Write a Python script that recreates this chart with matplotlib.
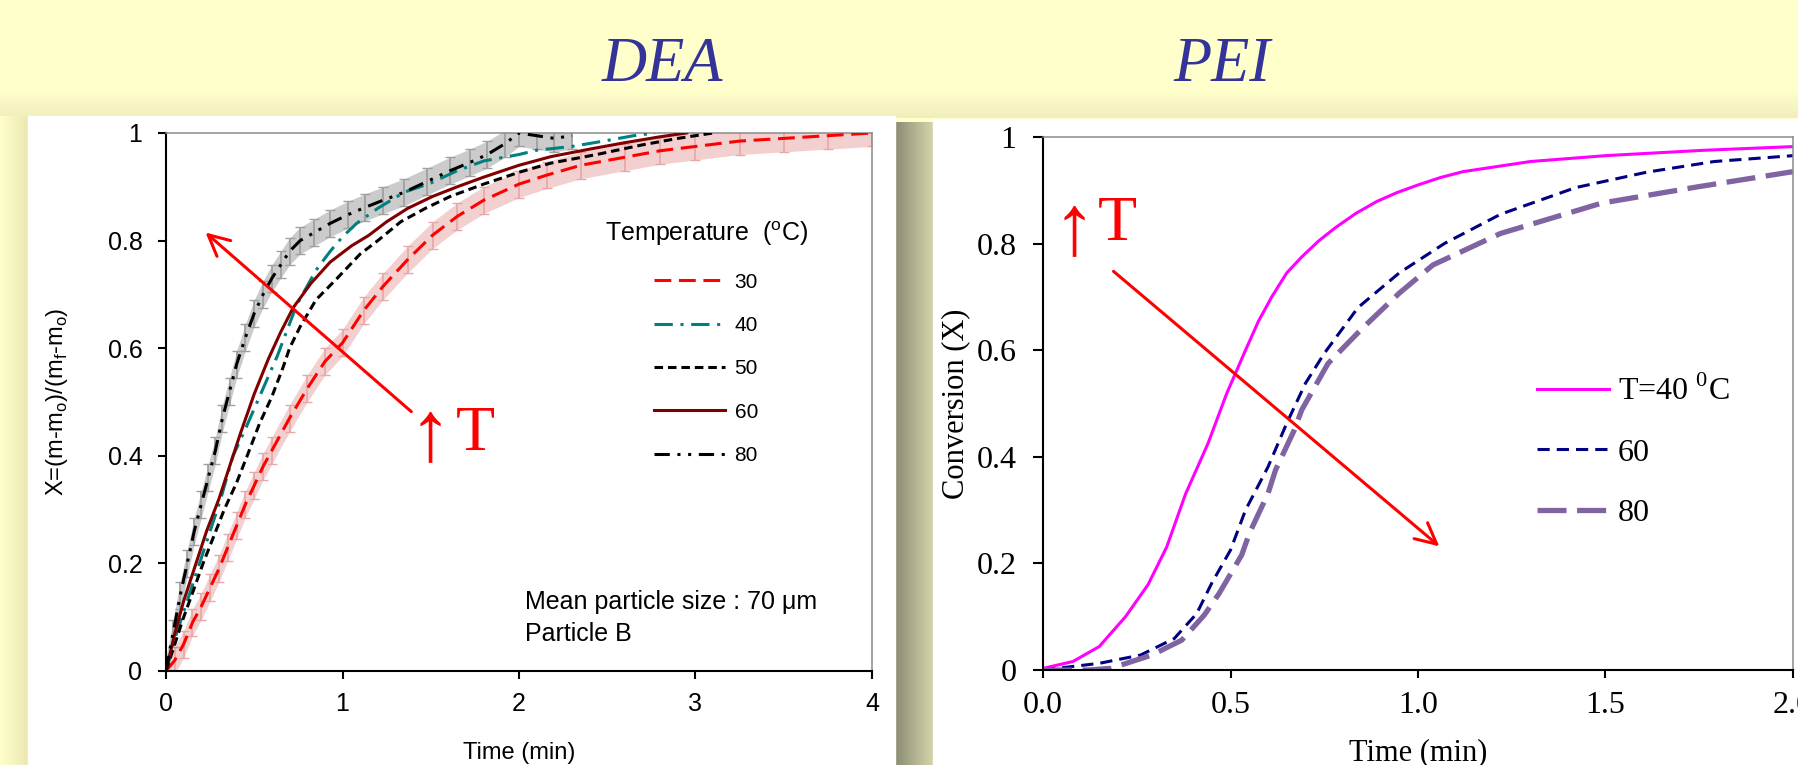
import numpy as np
import matplotlib.pyplot as plt
from matplotlib.patches import Rectangle
from matplotlib.colors import LinearSegmentedColormap

# ---- DEA (left panel): time (min) vs X ----
t30 = [0.00, 0.05, 0.10, 0.15, 0.20, 0.25, 0.30, 0.35, 0.40, 0.45, 0.50, 0.55, 0.60, 0.70, 0.80,
       0.90, 1.00, 1.12, 1.23, 1.37, 1.51, 1.65, 1.80, 2.00, 2.16, 2.35, 2.60, 2.80, 3.00, 3.25,
       3.50, 3.75, 4.00]
x30 = [0.00, 0.02, 0.05, 0.09, 0.12, 0.155, 0.19, 0.23, 0.27, 0.31, 0.345, 0.38, 0.41, 0.47, 0.525,
       0.575, 0.61, 0.67, 0.715, 0.765, 0.81, 0.845, 0.875, 0.905, 0.922, 0.94, 0.955, 0.967, 0.975, 0.985,
       0.99, 0.995, 1.00]

t40 = [0.00, 0.05, 0.10, 0.19, 0.25, 0.31, 0.38, 0.45, 0.53, 0.63, 0.74, 0.85, 0.93, 1.00, 1.08,
       1.20, 1.35, 1.50, 1.65, 1.80, 2.00, 2.10, 2.30, 2.48, 2.65, 2.77]
x40 = [0.00, 0.06, 0.11, 0.20, 0.26, 0.32, 0.40, 0.45, 0.51, 0.585, 0.68, 0.745, 0.78, 0.807, 0.832,
       0.86, 0.89, 0.907, 0.93, 0.948, 0.96, 0.968, 0.975, 0.985, 0.995, 1.00]

t50 = [0.00, 0.05, 0.10, 0.15, 0.21, 0.27, 0.33, 0.40, 0.46, 0.53, 0.60, 0.665, 0.70, 0.76, 0.85,
       0.97, 1.10, 1.20, 1.33, 1.47, 1.61, 1.80, 2.00, 2.18, 2.44, 2.70, 2.90, 3.10]
x50 = [0.00, 0.05, 0.10, 0.145, 0.20, 0.25, 0.30, 0.35, 0.40, 0.46, 0.51, 0.566, 0.60, 0.64, 0.69,
       0.73, 0.775, 0.80, 0.835, 0.86, 0.882, 0.905, 0.927, 0.944, 0.96, 0.978, 0.99, 1.00]

t60 = [0.00, 0.05, 0.10, 0.17, 0.23, 0.30, 0.36, 0.42, 0.50, 0.58, 0.65, 0.72, 0.82, 0.93, 1.05,
       1.15, 1.25, 1.37, 1.51, 1.65, 1.80, 2.00, 2.18, 2.40, 2.60, 2.80, 2.95]
x60 = [0.00, 0.07, 0.13, 0.20, 0.26, 0.32, 0.38, 0.44, 0.515, 0.58, 0.63, 0.675, 0.72, 0.76, 0.79,
       0.81, 0.835, 0.86, 0.882, 0.90, 0.918, 0.94, 0.956, 0.97, 0.982, 0.993, 1.00]

t80 = [0.00, 0.04, 0.08, 0.12, 0.16, 0.20, 0.24, 0.28, 0.32, 0.36, 0.40, 0.45, 0.50, 0.55, 0.60,
       0.65, 0.70, 0.76, 0.84, 0.93, 1.03, 1.13, 1.23, 1.35, 1.48, 1.61, 1.72, 1.82, 1.92, 2.00,
       2.10, 2.20, 2.30]
x80 = [0.00, 0.07, 0.14, 0.20, 0.26, 0.31, 0.36, 0.41, 0.47, 0.52, 0.57, 0.62, 0.665, 0.70, 0.73,
       0.755, 0.78, 0.80, 0.815, 0.832, 0.848, 0.862, 0.875, 0.89, 0.91, 0.93, 0.945, 0.96, 0.98, 1.00,
       0.995, 0.99, 0.995]

err30 = 0.025
err80 = 0.025

# ---- PEI (right panel): time (min) vs conversion ----
tp40 = [0.00, 0.08, 0.15, 0.22, 0.28, 0.33, 0.38, 0.44, 0.49, 0.54, 0.575, 0.61, 0.65, 0.69, 0.735,
        0.78, 0.835, 0.89, 0.945, 1.00, 1.06, 1.12, 1.30, 1.50, 1.76, 2.00]
xp40 = [0.003, 0.016, 0.044, 0.10, 0.16, 0.231, 0.33, 0.425, 0.519, 0.60, 0.655, 0.70, 0.745, 0.775, 0.805,
        0.83, 0.857, 0.879, 0.896, 0.91, 0.924, 0.935, 0.954, 0.965, 0.975, 0.982]

tp60 = [0.00, 0.15, 0.26, 0.35, 0.41, 0.45, 0.50, 0.54, 0.60, 0.65, 0.70, 0.75, 0.84, 0.95, 1.07,
        1.22, 1.42, 1.61, 1.79, 2.00]
xp60 = [0.00, 0.0125, 0.028, 0.059, 0.106, 0.163, 0.225, 0.30, 0.381, 0.463, 0.538, 0.594, 0.68, 0.745, 0.80,
        0.855, 0.905, 0.934, 0.954, 0.965]

tp80 = [0.00, 0.12, 0.18, 0.29, 0.37, 0.43, 0.47, 0.53, 0.55, 0.60, 0.62, 0.67, 0.69, 0.76, 0.85,
        0.95, 1.04, 1.22, 1.49, 1.75, 2.00]
xp80 = [0.00, 0.00, 0.003, 0.028, 0.056, 0.103, 0.144, 0.216, 0.256, 0.331, 0.375, 0.45, 0.488, 0.575, 0.64,
        0.707, 0.76, 0.819, 0.876, 0.907, 0.935]

SANS = 'Liberation Sans'
SERIF = ['Liberation Serif', 'DejaVu Serif']
plt.rcParams['font.family'] = SANS

W, H = 1799, 765
fig = plt.figure(figsize=(W / 100, H / 100), dpi=100)
fig.patch.set_facecolor('#FFFFCC')

# background: slide with white boxes and soft shadows
bg = fig.add_axes([0, 0, 1, 1], zorder=-10)
bg.axis('off')


def gradient(extent, c1, c2, horizontal=True):
    cmap = LinearSegmentedColormap.from_list('g', [c1, c2])
    g = np.linspace(0, 1, 64)
    arr = g[None, :] if horizontal else g[:, None]
    bg.imshow(arr, cmap=cmap, extent=extent, aspect='auto', interpolation='bicubic')


gradient((0, W, 118, 90), '#FFFFCC', '#F1EEBC', horizontal=False)
gradient((0, 28, H, 116), '#FFFFCC', '#ECE8B3')
gradient((895, 933, H, 122), '#8C8C74', '#D4D4AB')
bg.add_patch(Rectangle((28, 116), 867, H - 116, color='white'))
bg.add_patch(Rectangle((933, 119), W - 933, H - 119, color='white'))
bg.set_xlim(0, W)
bg.set_ylim(H, 0)

fig.text(662 / W, 1 - 81 / H, 'DEA', ha='center', va='baseline', fontsize=45,
         family=SERIF, style='italic', color='#333399')
fig.text(1222 / W, 1 - 81 / H, 'PEI', ha='center', va='baseline', fontsize=45,
         family=SERIF, style='italic', color='#333399')


def style_axes(ax, labelsize, family, ylen, xpad, ypad):
    for s in ['left', 'bottom']:
        ax.spines[s].set_color('black')
        ax.spines[s].set_linewidth(1.5)
    for s in ['top', 'right']:
        ax.spines[s].set_color('#8A8A8A')
        ax.spines[s].set_linewidth(1.1)
    ax.tick_params(direction='out', width=1.5, labelsize=labelsize)
    ax.tick_params(axis='y', length=ylen, pad=ypad)
    ax.tick_params(axis='x', length=6, pad=xpad)
    for lab in ax.get_xticklabels() + ax.get_yticklabels():
        lab.set_family(family)


# ---- left panel ----
ax1 = fig.add_axes([166 / W, (H - 671) / H, 706 / W, 538 / H])
lw = 2.2

a30 = np.array(x30)
a80 = np.array(x80)
ax1.fill_between(t30, a30 - err30, a30 + err30, color='#F3D0D0', lw=0, zorder=1)
ax1.errorbar(t30, x30, yerr=err30, fmt='none', ecolor='#E8A8A8', elinewidth=1.3, capsize=3.5, zorder=1.5)
ax1.fill_between(t80, a80 - err80, a80 + err80, color='#CBCBCB', lw=0, zorder=1)
ax1.errorbar(t80, x80, yerr=err80, fmt='none', ecolor='#A0A0A0', elinewidth=1.3, capsize=3.5, zorder=1.5)

h30, = ax1.plot(t30, x30, color='#FF0000', lw=lw, dashes=(5.5, 2.5), zorder=3)
h40, = ax1.plot(t40, x40, color='#008080', lw=lw, dashes=(6, 2.5, 1, 2.5), zorder=3)
h50, = ax1.plot(t50, x50, color='black', lw=lw, dashes=(2.8, 1.6), zorder=3)
h60, = ax1.plot(t60, x60, color='#800000', lw=lw, zorder=3)
h80, = ax1.plot(t80, x80, color='black', lw=lw, dashes=(5, 2.5, 1, 2.5, 1, 2.5), zorder=3)

ax1.set_xlim(0, 4)
ax1.set_ylim(0, 1)
ax1.set_xticks([0, 1, 2, 3, 4])
ax1.set_xticklabels(['0', '1', '2', '3', '4'])
ax1.set_yticks([0, 0.2, 0.4, 0.6, 0.8, 1.0])
ax1.set_yticklabels(['0', '0.2', '0.4', '0.6', '0.8', '1'])
style_axes(ax1, 18, SANS, 6, 9, 11)

ax1.set_xlabel('Time (min)', fontsize=17)
ax1.xaxis.set_label_coords(0.5, (671 - 753) / 538)
ax1.xaxis.label.set_va('center')
ax1.set_ylabel('X=(m-m$_\\mathregular{o}$)/(m$_\\mathregular{f}$-m$_\\mathregular{o}$)', fontsize=17)
ax1.yaxis.set_label_coords((57 - 166) / 706, 0.5)
ax1.yaxis.label.set_va('center')

ax1.legend([h30, h40, h50, h60, h80], ['30', '40', '50', '60', '80'],
           title='Temperature  ($^\\mathregular{o}$C)', loc='center', bbox_to_anchor=(0.765, 0.611),
           frameon=False, prop={'family': SANS, 'size': 15},
           title_fontproperties={'family': SANS, 'size': 18},
           handlelength=3.4, handletextpad=0.45, labelspacing=1.17)

ax1.annotate('', xy=(0.224, 0.815), xytext=(1.39, 0.482),
             arrowprops=dict(arrowstyle='->,head_length=0.6,head_width=0.3', color='#FF0000',
                             lw=2.2, mutation_scale=25, shrinkA=0, shrinkB=0))
ax1.text(1.496, 0.394, '↑', color='#FF0000', fontsize=62, family=SERIF, ha='center', va='baseline')
ax1.text(1.643, 0.411, 'T', color='#FF0000', fontsize=46, family=SERIF, ha='left', va='baseline')
ax1.text(2.034, 0.115, 'Mean particle size : 70 μm', fontsize=18, ha='left', va='baseline')
ax1.text(2.034, 0.056, 'Particle B', fontsize=18, ha='left', va='baseline')

# ---- right panel ----
ax2 = fig.add_axes([1043 / W, (H - 670) / H, 750 / W, 533 / H])
g40, = ax2.plot(tp40, xp40, color='#FF00FF', lw=2.2)
g60, = ax2.plot(tp60, xp60, color='#000080', lw=2.2, dashes=(4, 2.3))
g80, = ax2.plot(tp80, xp80, color='#8064A2', lw=3.8, dashes=(5.5, 2))

ax2.set_xlim(0, 2)
ax2.set_ylim(0, 1)
ax2.set_xticks([0, 0.5, 1.0, 1.5, 2.0])
ax2.set_xticklabels(['0.0', '0.5', '1.0', '1.5', '2.0'])
ax2.set_yticks([0, 0.2, 0.4, 0.6, 0.8, 1.0])
ax2.set_yticklabels(['0', '0.2', '0.4', '0.6', '0.8', '1'])
style_axes(ax2, 23, SERIF, 7, 9, 12)

ax2.set_xlabel('Time (min)', fontsize=22, family=SERIF)
ax2.xaxis.set_label_coords(0.5, (670 - 753) / 533)
ax2.xaxis.label.set_va('center')
ax2.set_ylabel('Conversion (X)', fontsize=22, family=SERIF)
ax2.yaxis.set_label_coords((956 - 1043) / 750, 0.5)
ax2.yaxis.label.set_va('center')

ax2.legend([g40, g60, g80], ['T=40 $^\\mathregular{0}$C', '60', '80'], loc='center',
           bbox_to_anchor=(0.787, 0.409), frameon=False,
           prop={'family': SERIF, 'size': 23},
           handlelength=2.25, handletextpad=0.28, labelspacing=0.97)

ax2.annotate('', xy=(1.057, 0.232), xytext=(0.188, 0.748),
             arrowprops=dict(arrowstyle='->,head_length=0.6,head_width=0.3', color='#FF0000',
                             lw=2.2, mutation_scale=25, shrinkA=0, shrinkB=0))
ax2.text(0.082, 0.783, '↑', color='#FF0000', fontsize=62, family=SERIF, ha='center', va='baseline')
ax2.text(0.145, 0.807, 'T', color='#FF0000', fontsize=46, family=SERIF, ha='left', va='baseline')

fig.savefig('out.png', dpi=100, facecolor=fig.get_facecolor())
